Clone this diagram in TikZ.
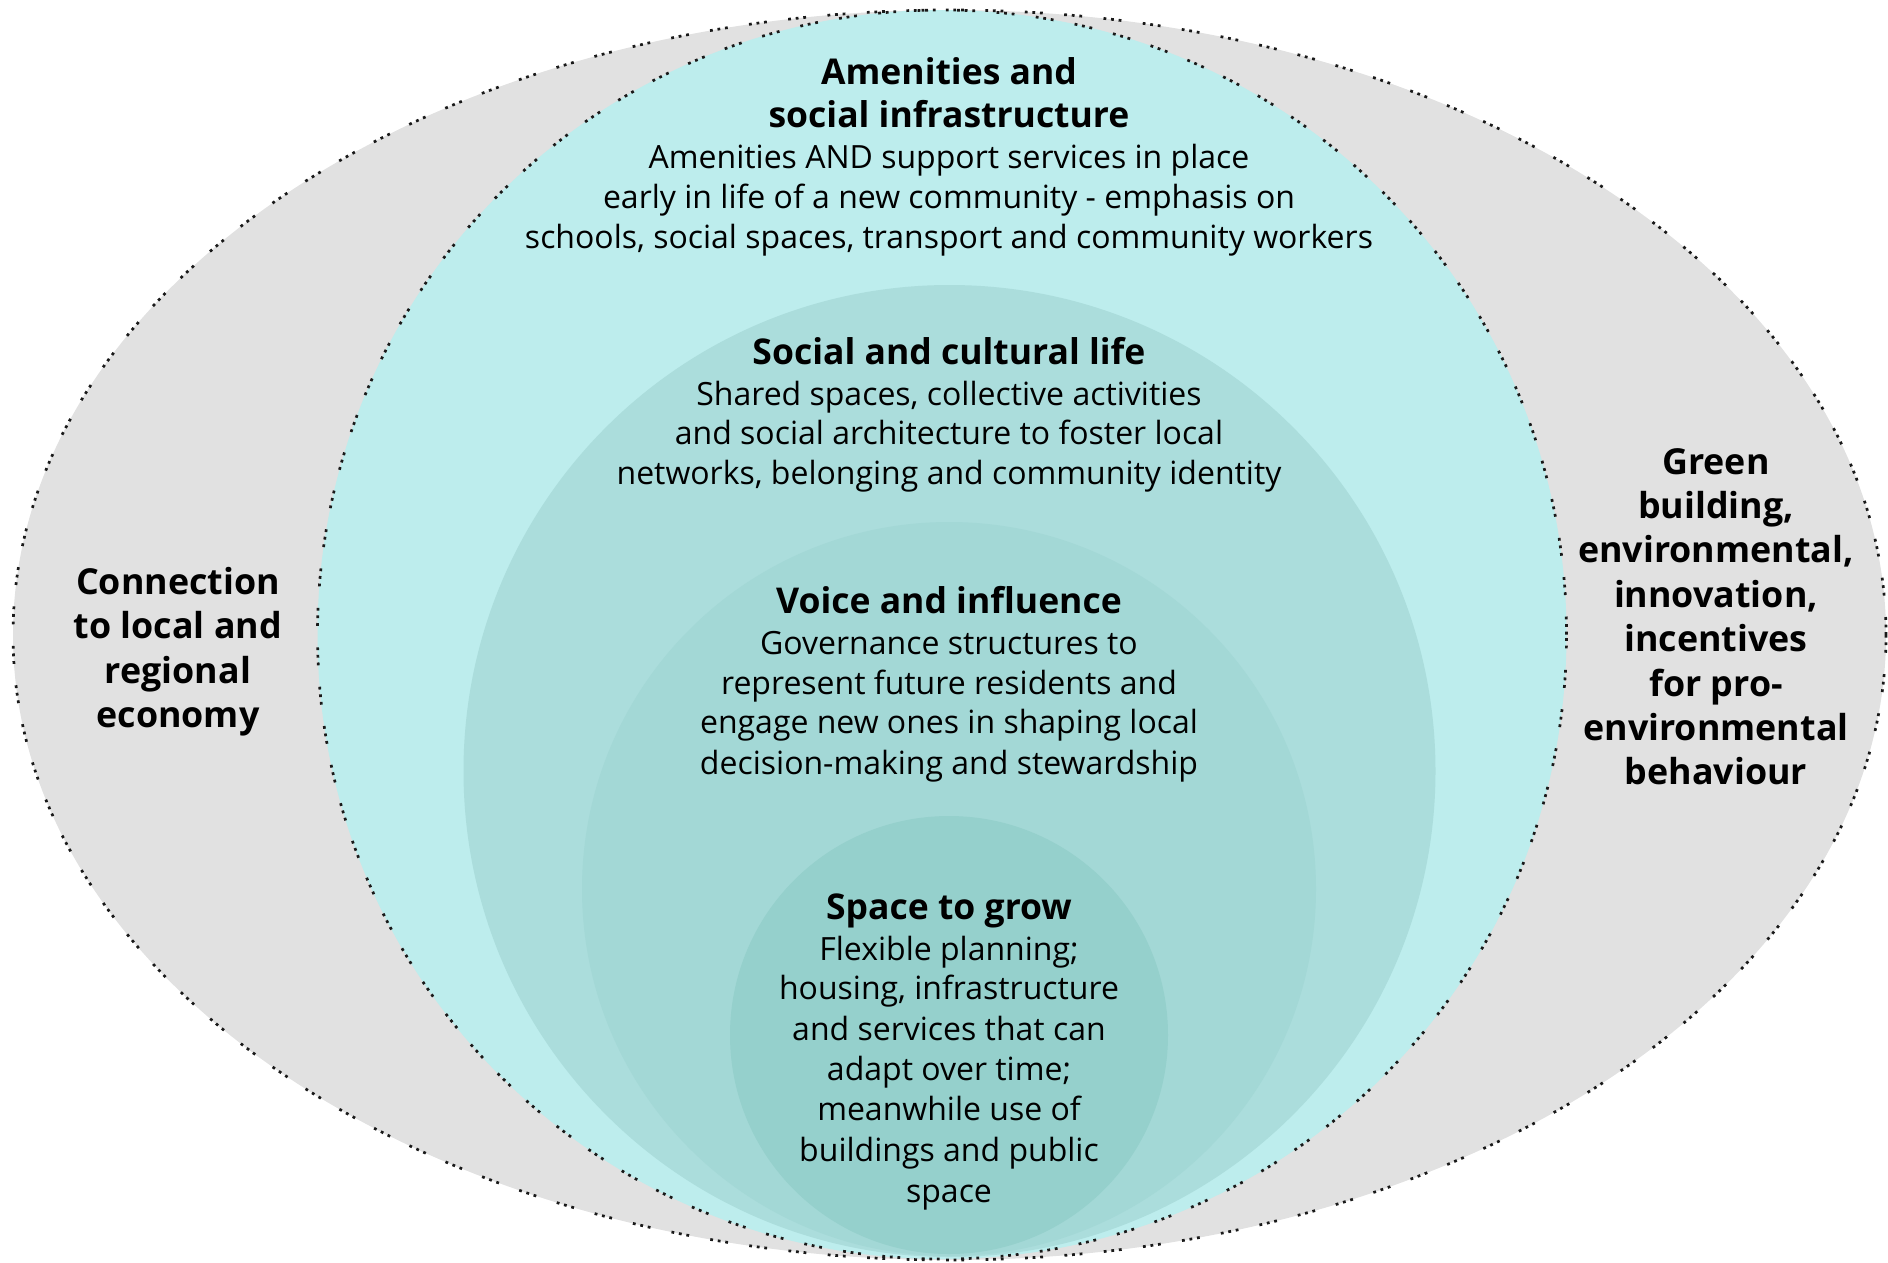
\documentclass[tikz,border=0pt]{standalone}
\usepackage{fontspec}
\setmainfont{Open Sans}
\definecolor{ringgray}{RGB}{225,225,225}
\definecolor{cyanA}{RGB}{189,237,237}
\definecolor{cyanB}{RGB}{171,221,220}
\definecolor{cyanC}{RGB}{163,216,214}
\definecolor{cyanD}{RGB}{149,208,204}
\tikzset{
  ttl/.style={anchor=base,inner sep=0pt,font=\fontsize{35.5}{44}\selectfont\bfseries},
  bod/.style={anchor=base,inner sep=0pt,font=\fontsize{32}{40}\selectfont},
  side/.style={anchor=base,inner sep=0pt,font=\fontsize{35.8}{44}\selectfont\bfseries},
  dotline/.style={draw=black!90,line width=2.7pt,dash pattern=on 2.8pt off 4.8pt on 2.8pt off 4.8pt on 2.8pt off 21.5pt}
}
\begin{document}
\begin{tikzpicture}[x=1pt,y=-1pt]
\useasboundingbox (0,0) rectangle (1888,1262);
% fills
\fill[ringgray] (949.5,635) ellipse[x radius=936.5pt,y radius=625pt];
\fill[cyanA] (942,634.5) circle[radius=624.5pt];
\fill[cyanB] (949.5,771) circle[radius=486pt];
\fill[cyanC] (949,889) circle[radius=367pt];
\fill[cyanD] (949,1035) circle[radius=219pt];
% dotted outlines
\draw[dotline] (949.5,635) ellipse[x radius=936.5pt,y radius=625pt];
\draw[dotline] (942,634.5) circle[radius=624.5pt];
% Amenities
\node[ttl] (a1) at (949,84) {Amenities and};
\node[ttl] (a2) at (949,127) {social infrastructure};
\node[bod] (a3) at (949,168) {Amenities AND support services in place};
\node[bod] (a4) at (949,208) {early in life of a new community - emphasis on};
\node[bod] (a5) at (949,248) {schools, social spaces, transport and community workers};
% Social
\node[ttl] (s1) at (949,364) {Social and cultural life};
\node[bod] (s2) at (949,405) {Shared spaces, collective activities};
\node[bod] (s3) at (949,444) {and social architecture to foster local};
\node[bod] (s4) at (949,484) {networks, belonging and community identity};
% Voice
\node[ttl] (v1) at (949,613) {Voice and influence};
\node[bod] (v2) at (949,654) {Governance structures to};
\node[bod] (v3) at (949,694) {represent future residents and};
\node[bod] (v4) at (949,733) {engage new ones in shaping local};
\node[bod] (v5) at (949,774) {decision-making and stewardship};
% Space
\node[ttl] (g1) at (949,919) {Space to grow};
\node[bod] (g2) at (949,960) {Flexible planning;};
\node[bod] (g3) at (949,999) {housing, infrastructure};
\node[bod] (g4) at (949,1040) {and services that can};
\node[bod] (g5) at (949,1080) {adapt over time;};
\node[bod] (g6) at (949,1120) {meanwhile use of};
\node[bod] (g7) at (949,1161) {buildings and public};
\node[bod] (g8) at (949,1202) {space};
% Left
\node[side] (l1) at (178,594) {Connection};
\node[side] (l2) at (178,638) {to local and};
\node[side] (l3) at (178,683) {regional};
\node[side] (l4) at (178,727) {economy};
% Right
\node[side] (r1) at (1716,474) {Green};
\node[side] (r2) at (1716,518) {building,};
\node[side] (r3) at (1716,562) {environmental,};
\node[side] (r4) at (1716,607) {innovation,};
\node[side] (r5) at (1716,651) {incentives};
\node[side] (r6) at (1716,696) {for pro-};
\node[side] (r7) at (1716,740) {environmental};
\node[side] (r8) at (1716,784) {behaviour};
\end{tikzpicture}
\end{document}
